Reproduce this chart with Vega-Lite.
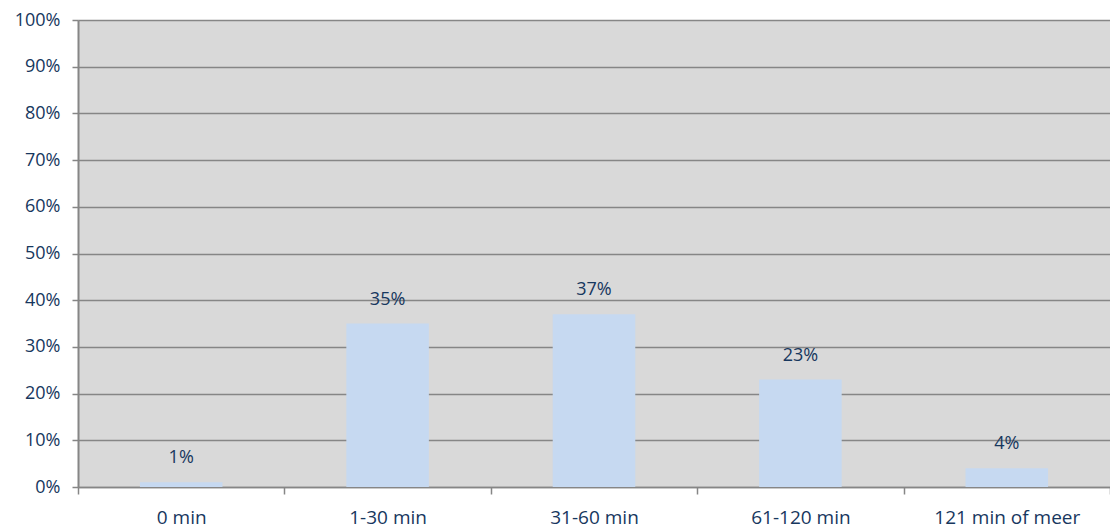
{
  "$schema": "https://vega.github.io/schema/vega-lite/v6.json",
  "width": 1032,
  "height": 467,
  "autosize": {"type": "none"},
  "padding": {"left": 78, "top": 20, "right": 0, "bottom": 42},
  "background": "white",
  "config": {
    "view": {"fill": "#d9d9d9", "stroke": null},
    "font": "Open Sans"
  },
  "data": {
    "values": [
      {"cat": "0 min", "pct": 0.01},
      {"cat": "1-30 min", "pct": 0.35},
      {"cat": "31-60 min", "pct": 0.37},
      {"cat": "61-120 min", "pct": 0.23},
      {"cat": "121 min of meer", "pct": 0.04}
    ]
  },
  "encoding": {
    "x": {
      "field": "cat", "type": "nominal", "sort": null, "title": null,
      "scale": {"paddingInner": 0, "paddingOuter": 0},
      "axis": {
        "labelAngle": 0, "labelFontSize": 19, "labelColor": "#17375e",
        "labelPadding": 14, "tickBand": "extent", "tickSize": 7,
        "tickColor": "#868686", "tickWidth": 1.5, "domainColor": "#868686", "domainWidth": 1.5
      }
    },
    "y": {
      "field": "pct", "type": "quantitative", "title": null,
      "scale": {"domain": [0, 1], "nice": false},
      "axis": {
        "format": ".0%", "values": [0, 0.1, 0.2, 0.3, 0.4, 0.5, 0.6, 0.7, 0.8, 0.9, 1],
        "labelFontSize": 18, "labelColor": "#17375e", "labelPadding": 12,
        "tickSize": 6, "tickColor": "#868686", "tickWidth": 1.5,
        "domainColor": "#868686", "domainWidth": 2,
        "gridColor": "#868686", "gridWidth": 1.5, "gridOpacity": 1
      }
    }
  },
  "layer": [
    {"mark": {"type": "bar", "color": "#c6d9f1", "width": {"band": 0.4}}},
    {
      "mark": {"type": "text", "baseline": "bottom", "dy": -15, "fontSize": 18, "color": "#17375e"},
      "encoding": {"text": {"field": "pct", "format": ".0%"}}
    }
  ]
}
